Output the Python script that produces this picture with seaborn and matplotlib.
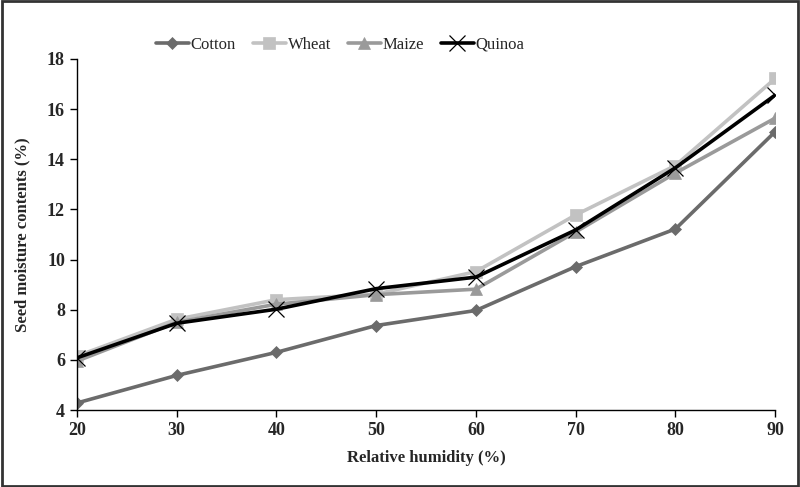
import numpy as np
import pandas as pd
import matplotlib
matplotlib.use("Agg")
import matplotlib.pyplot as plt
import seaborn as sns
from matplotlib.patches import Rectangle

# Humidade relativa (%) e teor de umidade das sementes (%)
humidity = [20, 30, 40, 50, 60, 70, 80, 90]
cotton = [4.28, 5.38, 6.3, 7.37, 7.97, 9.72, 11.22, 15.1]
wheat = [6.15, 7.62, 8.4, 8.62, 9.52, 11.78, 13.75, 17.22]
maize = [5.95, 7.5, 8.22, 8.6, 8.82, 11.1, 13.45, 15.64]
quinoa = [6.08, 7.46, 8.02, 8.84, 9.3, 11.18, 13.66, 16.56]

crops = ["Cotton", "Wheat", "Maize", "Quinoa"]
series = [cotton, wheat, maize, quinoa]

sns.set_theme(style="ticks")
plt.rcParams["font.family"] = ["Liberation Serif", "DejaVu Serif"]

df = pd.DataFrame({
    "humidity": humidity * len(crops),
    "moisture": np.concatenate(series),
    "crop": np.repeat(crops, len(humidity)),
})

cores = {"Cotton": "#6b6b6b", "Wheat": "#c2c2c2", "Maize": "#9a9a9a", "Quinoa": "#000000"}
marcadores = {"Cotton": "D", "Wheat": "s", "Maize": "^", "Quinoa": "x"}
tamanhos = {"Cotton": 6, "Wheat": 8, "Maize": 8, "Quinoa": 11}

fig = plt.figure(figsize=(8, 4.87), dpi=100)
ax = fig.add_axes([0.096, 0.158, 0.873, 0.721])

for crop in crops:
    sub = df[df["crop"] == crop]
    sns.lineplot(data=sub, x="humidity", y="moisture", ax=ax, label=crop,
                 color=cores[crop], marker=marcadores[crop], markersize=tamanhos[crop],
                 markeredgecolor=cores[crop], markeredgewidth=0.9 if crop == "Quinoa" else 0.5,
                 linewidth=2.6)

ax.set_xlim(20, 90)
ax.set_ylim(4, 18)
ax.set_xticks(humidity)
ax.set_yticks(range(4, 19, 2))
ax.set_xlabel("Relative humidity (%)", fontsize=12, fontweight="bold", labelpad=8)
ax.set_ylabel("Seed moisture contents (%)", fontsize=12, fontweight="bold", labelpad=12)
for lbl in ax.get_xticklabels() + ax.get_yticklabels():
    lbl.set_fontweight("bold")
    lbl.set_fontsize(13)
ax.tick_params(direction="out", length=5, width=1, color="black")
for s in ["left", "bottom"]:
    ax.spines[s].set_color("black")
    ax.spines[s].set_linewidth(1)
sns.despine(ax=ax)

ax.legend(loc="center", bbox_to_anchor=(0.377, 1.04), ncol=4, frameon=False,
          fontsize=12, handlelength=2.0, columnspacing=1.0, handletextpad=0.1)

# moldura da figura
fig.patches.append(Rectangle((0.002, 0.003), 0.996, 0.994, transform=fig.transFigure,
                             fill=False, edgecolor="#333333", linewidth=2))

fig.savefig("out.png", dpi=100)
